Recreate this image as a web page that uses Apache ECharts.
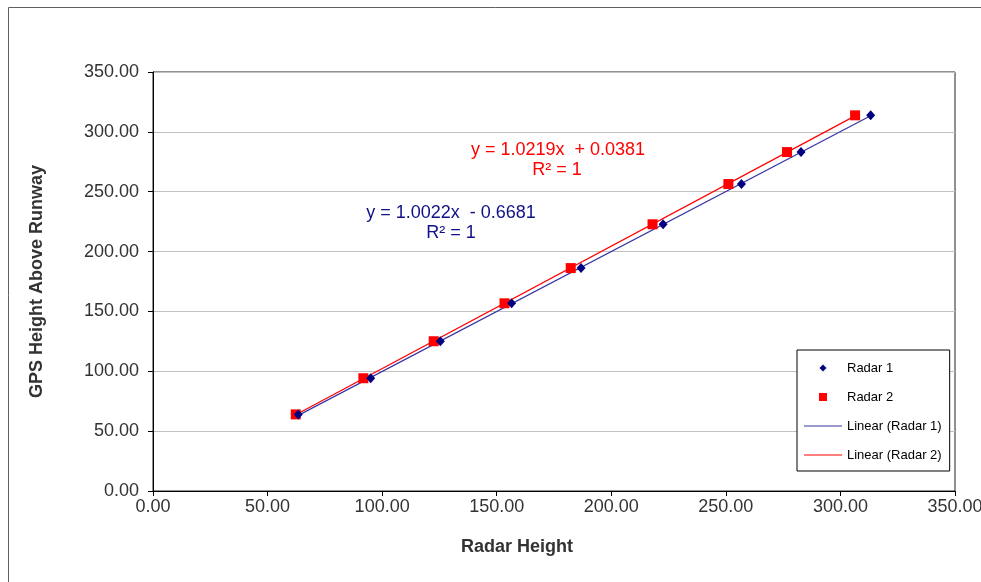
<!DOCTYPE html>
<html>
<head>
<meta charset="utf-8">
<script src="https://cdn.jsdelivr.net/npm/echarts@6/dist/echarts.min.js"></script>
<style>
  html, body { margin: 0; padding: 0; background: #fff; }
  #chart { width: 981px; height: 582px; }
</style>
</head>
<body>
<div id="chart"></div>
<script>
// 数据：GPS 高度与两部雷达的读数
var gpsHeight = [64.0, 94.2, 125.1, 156.8, 186.2, 222.8, 256.4, 283.1, 313.8];
var radar1 = [63.4, 95.0, 125.4, 156.5, 186.8, 222.6, 256.8, 282.8, 313.2];
var radar2 = [62.3, 91.8, 122.5, 153.4, 182.3, 218.0, 251.1, 276.7, 306.4];
var axisTicks = [0, 50, 100, 150, 200, 250, 300, 350];
var eq1 = ['y = 1.0022x  - 0.6681', 'R² = 1'];
var eq2 = ['y = 1.0219x  + 0.0381', 'R² = 1'];

var FONT = "'Liberation Sans', Arial, sans-serif";

// 图例图标（38x9 的框，中间放符号）
var ICON_BOX = 'path://M0,0M38,9';
var iconDiamond = ICON_BOX + 'M19,1L22.5,4.5L19,8L15.5,4.5Z';
var iconSquare = ICON_BOX + 'M15,0.5L23,0.5L23,8.5L15,8.5Z';
var iconLine = ICON_BOX + 'M0,4L38,4L38,5.1L0,5.1Z';

function pairs(xs, ys) {
    return xs.map(function (x, i) { return [x, ys[i]]; });
}

// 最小二乘趋势线，从最小 x 画到最大 x
function trend(xs, ys) {
    var n = xs.length, sx = 0, sy = 0, sxx = 0, sxy = 0;
    for (var i = 0; i < n; i++) {
        sx += xs[i]; sy += ys[i]; sxx += xs[i] * xs[i]; sxy += xs[i] * ys[i];
    }
    var b = (n * sxy - sx * sy) / (n * sxx - sx * sx);
    var a = (sy - b * sx) / n;
    var x0 = Math.min.apply(null, xs), x1 = Math.max.apply(null, xs);
    return [[x0, a + b * x0], [x1, a + b * x1]];
}

var myChart = echarts.init(document.getElementById('chart'));

var axisCommon = {
    type: 'value',
    min: axisTicks[0],
    max: axisTicks[axisTicks.length - 1],
    interval: axisTicks[1] - axisTicks[0],
    axisLine: { show: true, lineStyle: { color: '#000', width: 1 } },
    axisTick: { show: true, length: 5, lineStyle: { color: '#000' } },
    splitLine: { show: true, lineStyle: { color: '#c0c0c0', width: 1 } },
    axisLabel: {
        color: '#333', fontSize: 18, fontFamily: FONT,
        formatter: function (v) { return v.toFixed(2); }
    },
    nameLocation: 'middle',
    nameTextStyle: { color: '#333', fontSize: 18, fontWeight: 'bold', fontFamily: FONT }
};

var option = {
    backgroundColor: '#fff',
    animation: false,
    grid: {
        left: 153, right: 26, top: 72, bottom: 91,
        outerBoundsMode: 'none',
        containLabel: false,
        show: true, borderColor: '#222', borderWidth: 1, backgroundColor: 'transparent'
    },
    xAxis: Object.assign({}, axisCommon, {
        name: 'Radar Height', nameGap: 47,
        splitLine: { show: false },
        nameTextStyle: Object.assign({}, axisCommon.nameTextStyle, { padding: [0, 74, 0, 0] }),
        axisLabel: Object.assign({}, axisCommon.axisLabel, { margin: 7 })
    }),
    yAxis: Object.assign({}, axisCommon, {
        name: 'GPS Height Above Runway', nameGap: 107,
        axisLabel: Object.assign({}, axisCommon.axisLabel, { margin: 14 })
    }),
    legend: {
        orient: 'vertical',
        left: 797, top: 350,
        padding: [11, 8, 9, 7],
        itemWidth: 38, itemHeight: 9, itemGap: 15, itemTextGap: 5,
        borderColor: '#000', borderWidth: 1, backgroundColor: '#fff',
        textStyle: { color: '#000', fontSize: 13, fontFamily: FONT, lineHeight: 14 },
        data: [
            { name: 'Radar 1', icon: iconDiamond },
            { name: 'Radar 2', icon: iconSquare },
            { name: 'Linear (Radar 1)', icon: iconLine },
            { name: 'Linear (Radar 2)', icon: iconLine }
        ]
    },
    series: [{
        name: 'Linear (Radar 1)',
        type: 'line',
        data: trend(radar1, gpsHeight),
        symbol: 'none',
        lineStyle: { color: '#3636a4', width: 1.2 },
        itemStyle: { color: '#3636a4' },
        z: 2
    }, {
        name: 'Linear (Radar 2)',
        type: 'line',
        data: trend(radar2, gpsHeight),
        symbol: 'none',
        lineStyle: { color: '#ff0000', width: 1.2 },
        itemStyle: { color: '#ff0000' },
        z: 2
    }, {
        name: 'Radar 2',
        type: 'scatter',
        data: pairs(radar2, gpsHeight),
        symbol: 'rect',
        symbolSize: 10,
        itemStyle: { color: '#ff0000', opacity: 1 },
        z: 3
    }, {
        name: 'Radar 1',
        type: 'scatter',
        data: pairs(radar1, gpsHeight),
        symbol: 'diamond',
        symbolSize: [9, 10],
        itemStyle: { color: '#000080', opacity: 1 },
        z: 4
    }],
    graphic: [{
        type: 'rect',
        shape: { x: 8.5, y: 7.5, width: 990, height: 590 },
        style: { fill: 'none', stroke: '#606060', lineWidth: 1 },
        silent: true
    }, {
        type: 'text', x: 558, y: 150,
        style: { text: eq2[0], fill: '#ff0000', font: '18px ' + FONT, textAlign: 'center', textVerticalAlign: 'middle' }
    }, {
        type: 'text', x: 557, y: 170,
        style: { text: eq2[1], fill: '#ff0000', font: '18px ' + FONT, textAlign: 'center', textVerticalAlign: 'middle' }
    }, {
        type: 'text', x: 451, y: 213,
        style: { text: eq1[0], fill: '#101088', font: '18px ' + FONT, textAlign: 'center', textVerticalAlign: 'middle' }
    }, {
        type: 'text', x: 451, y: 233,
        style: { text: eq1[1], fill: '#101088', font: '18px ' + FONT, textAlign: 'center', textVerticalAlign: 'middle' }
    }]
};

myChart.setOption(option);
</script>
</body>
</html>
